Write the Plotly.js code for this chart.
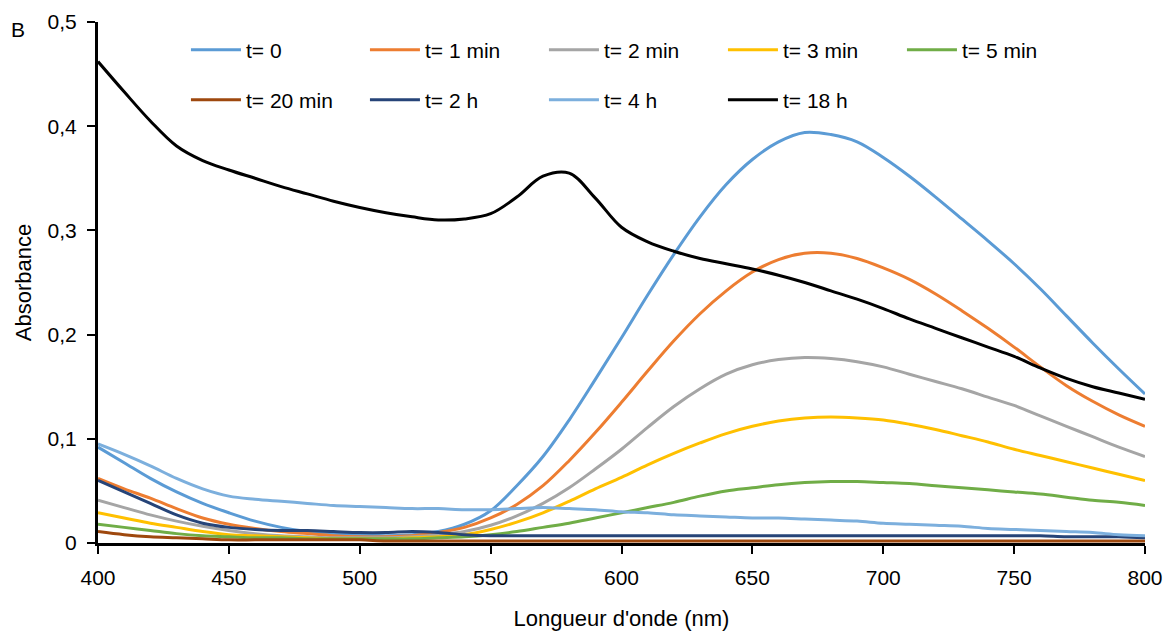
<!DOCTYPE html>
<html><head><meta charset="utf-8">
<script src="https://cdn.plot.ly/plotly-3.0.1.min.js"></script>
<style>html,body{margin:0;padding:0;background:#fff}#chart{width:1167px;height:631px}</style>
</head><body><div id="chart"></div>
<script>
const wavelength = [400,410,420,430,440,450,460,470,480,490,500,510,520,530,540,550,560,570,580,590,600,610,620,630,640,650,660,670,680,690,700,710,720,730,740,750,760,770,780,790,800];
const seriesNames = ["t= 0","t= 1 min","t= 2 min","t= 3 min","t= 5 min","t= 20 min","t= 2 h","t= 4 h","t= 18 h"];
const seriesColors = ["#5B9BD5","#ED7D31","#A5A5A5","#FFC000","#70AD47","#9E480E","#264478","#7CAFDD","#000000"];
const t0    = [.092,.077,.062,.049,.038,.029,.021,.015,.011,.009,.008,.007,.008,.011,.018,.031,.055,.083,.118,.157,.197,.238,.277,.313,.344,.368,.385,.394,.392,.385,.370,.352,.332,.311,.290,.268,.244,.218,.192,.167,.143];
const t1min = [.062,.052,.043,.033,.024,.018,.014,.011,.009,.007,.006,.006,.007,.010,.015,.024,.037,.055,.079,.106,.135,.165,.194,.220,.242,.260,.272,.278,.278,.273,.264,.253,.239,.223,.206,.188,.169,.151,.136,.123,.112];
const t2min = [.041,.034,.027,.021,.016,.012,.009,.007,.006,.005,.005,.005,.006,.008,.011,.017,.026,.038,.053,.071,.090,.111,.131,.148,.162,.171,.176,.178,.177,.174,.169,.162,.155,.148,.140,.132,.122,.112,.102,.092,.083];
const t3min = [.029,.024,.019,.015,.011,.008,.007,.006,.005,.004,.004,.004,.005,.006,.008,.013,.020,.029,.040,.052,.063,.075,.086,.096,.105,.112,.117,.120,.121,.120,.118,.114,.109,.103,.097,.090,.084,.078,.072,.066,.060];
const t5min = [.018,.015,.012,.009,.007,.006,.005,.005,.004,.004,.004,.004,.004,.005,.006,.008,.011,.015,.019,.024,.029,.034,.039,.045,.050,.053,.056,.058,.059,.059,.058,.057,.055,.053,.051,.049,.047,.044,.041,.039,.036];
const t20min= [.011,.008,.006,.005,.004,.003,.003,.003,.003,.003,.003,.002,.002,.002,.002,.002,.002,.002,.002,.002,.002,.002,.002,.002,.002,.002,.002,.002,.002,.002,.002,.002,.002,.002,.002,.002,.002,.002,.002,.002,.002];
const t2h   = [.060,.049,.038,.027,.019,.015,.013,.012,.012,.011,.010,.010,.011,.010,.008,.007,.007,.007,.007,.007,.007,.007,.007,.007,.007,.007,.007,.007,.007,.007,.007,.007,.007,.007,.007,.007,.007,.006,.006,.006,.005];
const t4h   = [.095,.085,.074,.062,.052,.045,.042,.040,.038,.036,.035,.034,.033,.033,.032,.032,.033,.034,.033,.032,.030,.029,.027,.026,.025,.024,.024,.023,.022,.021,.019,.018,.017,.016,.014,.013,.012,.011,.010,.008,.007];
const t18h  = [.462,.433,.405,.381,.367,.358,.350,.342,.335,.328,.322,.317,.313,.310,.311,.316,.332,.352,.355,.331,.303,.289,.280,.273,.268,.263,.257,.250,.242,.234,.225,.215,.206,.197,.188,.179,.168,.158,.150,.144,.138];
const xTicks = [400,450,500,550,600,650,700,750,800];
const yTickVals = [0,0.1,0.2,0.3,0.4,0.5];
const yTickText = ["0","0,1","0,2","0,3","0,4","0,5"];

const allSeries = [t0,t1min,t2min,t3min,t5min,t20min,t2h,t4h,t18h];
const FONT = "Liberation Sans, Arial, sans-serif";
const traces = allSeries.map((ys,i)=>({
  x: wavelength, y: ys, name: seriesNames[i], type:'scatter', mode:'lines',
  line:{color:seriesColors[i], width:3, shape:'spline', smoothing:1},
  legend: i<5 ? 'legend' : 'legend2', hoverinfo:'skip'
}));
const legendCommon = {orientation:'h', xanchor:'left', yanchor:'middle', bgcolor:'rgba(0,0,0,0)',
  font:{family:FONT,size:21,color:'#000'}, itemwidth:50, entrywidth:114, entrywidthmode:'pixels', traceorder:'normal'};
const layout = {
  width:1167, height:631, paper_bgcolor:'#fff', plot_bgcolor:'#fff',
  margin:{l:98,r:22,t:22,b:88},
  font:{family:FONT,size:20,color:'#000'},
  xaxis:{range:[400,800], tickvals:xTicks, ticks:'outside', ticklen:8, tickwidth:2, tickcolor:'#000',
    showline:true, linecolor:'#000', linewidth:3, showgrid:false, zeroline:false, mirror:false,
    ticklabelstandoff:6,
    tickfont:{family:FONT,size:21,color:'#000'},
    title:{text:"Longueur d'onde (nm)", font:{family:FONT,size:22,color:'#000'}, standoff:24}},
  yaxis:{range:[0,0.5], tickvals:yTickVals, ticktext:yTickText, ticks:'outside', ticklen:8, tickwidth:2, tickcolor:'#000',
    showline:true, linecolor:'#000', linewidth:3, showgrid:false, zeroline:false,
    ticklabelstandoff:6,
    tickfont:{family:FONT,size:21,color:'#000'},
    title:{text:"Absorbance", font:{family:FONT,size:22,color:'#000'}, standoff:10}},
  legend: Object.assign({x:0.084, y:0.946}, legendCommon),
  legend2: Object.assign({x:0.084, y:0.850}, legendCommon),
  showlegend:true,
  annotations:[{text:"B", xref:'paper', yref:'paper', x:-0.085, y:0.985, xanchor:'left', yanchor:'middle',
    showarrow:false, font:{family:FONT,size:21,color:'#000'}}]
};
Plotly.newPlot('chart', traces, layout, {displayModeBar:false, staticPlot:true});
</script></body></html>
